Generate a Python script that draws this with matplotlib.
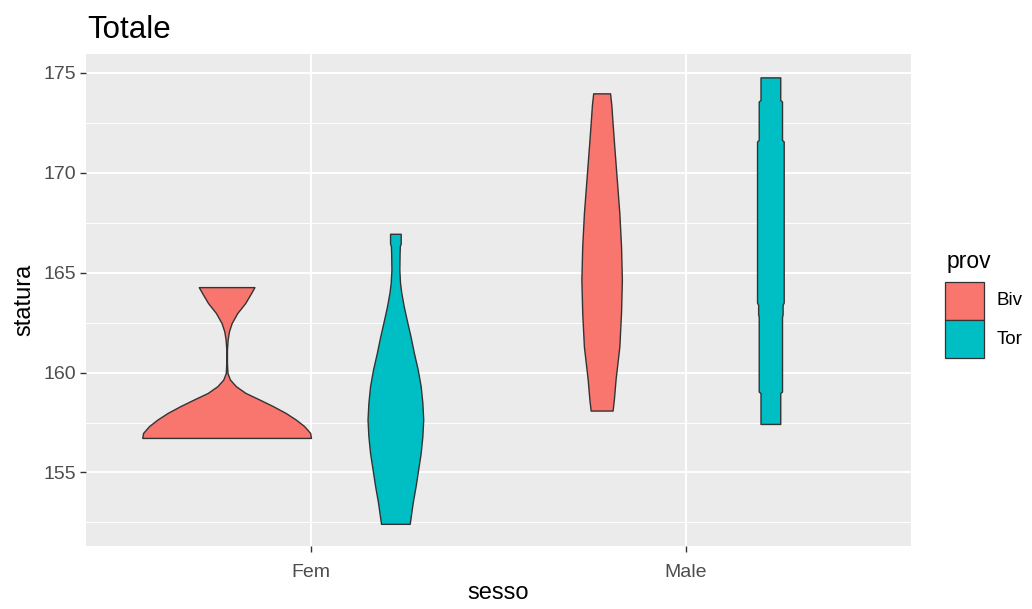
import matplotlib
matplotlib.use("Agg")
import matplotlib.pyplot as plt
from matplotlib.patches import Rectangle
from matplotlib.ticker import MultipleLocator

plt.rcParams["font.family"] = ["Liberation Sans", "DejaVu Sans"]

# --- data -------------------------------------------------------------
categories = ["Fem", "Male"]
groups = ["Biv", "Tor"]
colors = {"Biv": "#F8766D", "Tor": "#00BFC4"}

# violin outlines: statura levels and relative half-width (1 = widest violin)
fem_biv_stat = [156.73, 156.98, 157.32, 157.65, 157.98, 158.32, 158.65, 158.98,
                159.32, 159.65, 159.98, 160.48, 161.15, 161.65, 162.07, 162.48,
                162.98, 163.48, 163.98, 164.28]
fem_biv_width = [1.00, 0.99, 0.92, 0.82, 0.70, 0.55, 0.39, 0.225,
                 0.11, 0.04, 0.01, 0.004, 0.004, 0.012, 0.028, 0.06,
                 0.126, 0.22, 0.29, 0.33]

fem_tor_stat = [152.43, 153.48, 154.32, 155.15, 155.98, 156.82, 157.65, 158.48,
                159.32, 160.15, 160.98, 161.80, 162.65, 163.30, 164.00, 164.50,
                165.15, 166.00, 166.35, 166.45, 166.95]
fem_tor_width = [0.17, 0.205, 0.24, 0.27, 0.30, 0.32, 0.33, 0.32,
                 0.30, 0.265, 0.22, 0.18, 0.134, 0.10, 0.07, 0.055,
                 0.047, 0.05, 0.053, 0.063, 0.063]

male_biv_stat = [158.10, 158.65, 159.65, 161.30, 163.00, 164.65, 166.32, 167.98,
                 169.65, 171.32, 172.48, 173.40, 173.98]
male_biv_width = [0.13, 0.145, 0.165, 0.21, 0.23, 0.24, 0.23, 0.21,
                  0.18, 0.15, 0.13, 0.115, 0.10]

male_tor_stat = [157.43, 158.98, 159.05, 162.80, 162.90, 163.40, 163.50, 171.57,
                 171.65, 173.57, 173.65, 174.78]
male_tor_width = [0.117, 0.117, 0.138, 0.138, 0.145, 0.145, 0.158, 0.158,
                  0.138, 0.138, 0.117, 0.117]

violins = {
    ("Fem", "Biv"): (fem_biv_stat, fem_biv_width),
    ("Fem", "Tor"): (fem_tor_stat, fem_tor_width),
    ("Male", "Biv"): (male_biv_stat, male_biv_width),
    ("Male", "Tor"): (male_tor_stat, male_tor_width),
}

# --- figure -----------------------------------------------------------
W, H = 1032, 609
fig = plt.figure(figsize=(W / 100, H / 100), dpi=100)
ax = fig.add_axes([86 / W, 1 - 546 / H, (911 - 86) / W, (546 - 54) / H])
ax.set_facecolor("#EBEBEB")
for s in ax.spines.values():
    s.set_visible(False)

dodge = 0.9
half = dodge / len(groups) / 2  # max half-width of one violin
for ci, cat in enumerate(categories):
    for gi, grp in enumerate(groups):
        stat, wid = violins[(cat, grp)]
        centre = ci + (gi - 0.5) * dodge / len(groups)
        left = [centre - w * half for w in wid]
        right = [centre + w * half for w in wid]
        ax.fill_betweenx(stat, left, right, facecolor=colors[grp],
                         edgecolor="#333333", linewidth=1.0, zorder=3)

ax.set_xlim(-0.6, 1.6)
ax.set_ylim(151.32, 175.95)
ax.set_xticks(range(len(categories)))
ax.set_xticklabels(categories)
ax.yaxis.set_major_locator(MultipleLocator(5))
ax.yaxis.set_minor_locator(MultipleLocator(2.5))
ax.grid(which="major", color="white", linewidth=1.4, zorder=0)
ax.grid(which="minor", axis="y", color="white", linewidth=0.7, zorder=0)
ax.set_axisbelow(True)
ax.tick_params(which="major", length=4, width=1, color="#333333",
               labelsize=14, labelcolor="#4D4D4D", pad=3)
ax.tick_params(axis="x", which="major", pad=9)
ax.tick_params(which="minor", length=0)

ax.set_xlabel("sesso", fontsize=17, labelpad=1)
ax.set_ylabel("statura", fontsize=17, labelpad=6)
fig.text(87 / W, 1 - 38 / H, "Totale", fontsize=22.5, ha="left", va="baseline")

# legend
fig.text(947 / W, 1 - 268 / H, "prov", fontsize=16.5, ha="left", va="baseline")
key_w, key_h = 39, 38
for i, grp in enumerate(groups):
    top = 282 + i * key_h
    fig.add_artist(Rectangle((945 / W, 1 - (top + key_h) / H), key_w / W, key_h / H,
                             transform=fig.transFigure, facecolor=colors[grp],
                             edgecolor="#333333", linewidth=0.9))
    fig.text(997 / W, 1 - (top + key_h / 2) / H, grp, fontsize=13.5,
             ha="left", va="center")

fig.savefig("out.png", dpi=100)
